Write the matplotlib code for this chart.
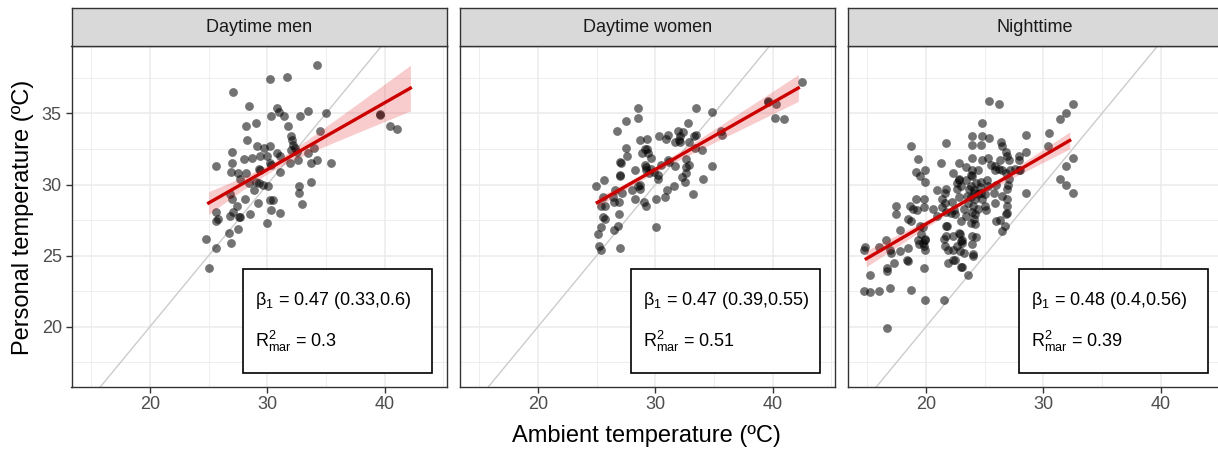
import numpy as np
import matplotlib
matplotlib.use("Agg")
import matplotlib.pyplot as plt

plt.rcParams['font.family'] = ['Liberation Sans', 'DejaVu Sans']
plt.rcParams['mathtext.fontset'] = 'custom'
plt.rcParams['mathtext.rm'] = 'Liberation Sans'
plt.rcParams['mathtext.it'] = 'Liberation Sans'
plt.rcParams['mathtext.default'] = 'regular'

# (ambient, personal) readings per panel
men = [(34.2, 38.4), (30.2, 37.4), (31.7, 37.6), (27.1, 36.5), (28.4, 35.5), (30.8, 35.4),
       (31.0, 35.1), (30.3, 34.8), (31.4, 34.8), (32.8, 34.8), (33.5, 35.2), (35.0, 35.0),
       (39.6, 34.9), (39.6, 34.95), (40.5, 34.1), (41.1, 33.9), (28.2, 34.1), (29.0, 34.3),
       (31.8, 34.1), (34.5, 33.8), (32.0, 33.4), (28.3, 33.1), (29.1, 32.7), (29.7, 32.6),
       (30.2, 32.7), (32.1, 33.1), (32.2, 32.8), (32.4, 32.6), (27.0, 32.3), (28.7, 31.9),
       (28.0, 31.8), (29.4, 32.0), (30.0, 32.0), (30.8, 32.2), (31.1, 32.0), (32.0, 32.4),
       (32.5, 32.3), (33.5, 32.2), (34.0, 32.6), (27.0, 31.5), (25.6, 31.3), (30.2, 31.5),
       (30.3, 31.4), (31.9, 31.5), (32.6, 31.7), (33.7, 31.5), (34.2, 31.7), (35.4, 31.5),
       (26.9, 30.9), (27.5, 30.8), (28.2, 30.8), (29.3, 31.1), (29.4, 31.0), (31.1, 30.9),
       (27.7, 30.4), (28.4, 30.1), (29.0, 30.2), (29.3, 30.1), (29.6, 30.0), (30.1, 29.9),
       (28.9, 29.6), (26.8, 29.3), (27.0, 29.0), (32.7, 29.9), (32.7, 29.4), (33.7, 30.2),
       (27.4, 28.5), (28.1, 29.0), (29.2, 28.7), (30.2, 28.9), (30.5, 28.9), (33.0, 28.6),
       (25.6, 28.1), (25.8, 27.6), (27.1, 28.1), (26.8, 27.8), (27.6, 27.7), (27.7, 27.7),
       (28.5, 27.9), (30.3, 28.2), (31.1, 28.0), (30.0, 27.3), (25.6, 27.4), (27.5, 26.9),
       (26.7, 26.6), (24.8, 26.2), (25.6, 25.5), (26.9, 25.9), (25.0, 24.1)]

women = [(42.5, 37.2), (39.6, 35.9), (39.6, 35.8), (40.3, 35.7), (40.2, 34.7), (41.0, 34.6),
         (35.6, 33.8), (35.7, 33.5), (34.8, 35.1), (33.5, 35.4), (32.8, 34.3), (28.5, 35.4),
         (28.5, 34.7), (27.5, 34.5), (26.7, 33.8), (30.3, 33.4), (31.1, 33.5), (28.7, 33.1),
         (29.3, 33.2), (30.9, 33.2), (31.9, 33.8), (32.1, 33.4), (32.4, 33.7), (33.3, 33.4),
         (33.5, 33.5), (31.7, 33.0), (32.0, 33.1), (32.1, 33.0), (32.9, 33.0), (33.4, 32.6),
         (34.0, 32.4), (27.5, 32.6), (27.6, 32.0), (27.0, 31.6), (27.1, 31.5), (29.1, 32.5),
         (29.3, 32.5), (28.9, 32.2), (29.4, 32.2), (29.6, 31.9), (31.1, 31.7), (31.2, 31.6),
         (30.5, 31.4), (32.6, 31.8), (32.9, 31.4), (32.6, 31.2), (34.8, 31.3), (28.3, 31.0),
         (29.1, 31.4), (29.2, 31.2), (29.2, 31.0), (29.5, 30.8), (29.6, 31.1), (29.9, 30.9),
         (30.2, 30.7), (31.7, 31.3), (32.6, 30.8), (27.0, 30.7), (27.0, 30.6), (25.6, 30.3),
         (30.2, 30.4), (32.3, 30.5), (32.5, 30.2), (34.1, 30.4), (24.9, 29.9), (28.5, 29.9),
         (28.7, 29.7), (28.0, 29.6), (28.7, 29.95), (31.0, 29.6), (31.6, 29.9), (33.2, 29.3),
         (25.5, 29.1), (26.6, 29.6), (26.4, 29.1), (27.2, 29.4), (26.5, 28.8), (26.9, 28.8),
         (30.1, 29.0), (30.8, 29.1), (28.3, 29.0), (29.0, 28.8), (29.2, 28.5), (25.4, 28.5),
         (25.7, 28.5), (25.5, 27.7), (25.7, 27.6), (26.9, 27.9), (25.4, 27.0), (26.8, 27.1),
         (26.5, 26.8), (25.1, 26.5), (30.1, 27.0), (25.2, 25.7), (25.4, 25.4), (27.0, 25.5)]

night = [(25.4, 35.9), (26.2, 35.7), (32.5, 35.7), (31.9, 35.0), (31.4, 34.6), (24.8, 34.3),
         (23.9, 33.4), (24.8, 33.4), (25.4, 33.3), (21.7, 32.9), (18.7, 32.7), (23.9, 32.8),
         (24.7, 32.8), (26.4, 33.0), (26.5, 32.7), (28.5, 33.5), (30.5, 33.6), (30.4, 32.7),
         (28.5, 32.3), (27.9, 32.0), (19.3, 31.8), (21.3, 31.5), (23.9, 31.9), (25.3, 31.9),
         (26.8, 32.3), (26.9, 32.0), (26.3, 31.7), (24.8, 31.7), (23.4, 31.2), (22.8, 31.5),
         (32.5, 31.9), (31.9, 31.3), (27.1, 31.7), (27.9, 31.0), (19.1, 30.9), (19.9, 31.0),
         (19.5, 30.6), (19.9, 30.2), (22.3, 30.8), (22.8, 30.4), (23.9, 31.0), (23.9, 30.6),
         (24.4, 31.0), (25.9, 31.0), (26.5, 31.0), (26.8, 30.8), (27.1, 30.4), (24.7, 30.2),
         (25.2, 30.3), (23.4, 30.3), (22.6, 30.1), (31.4, 30.4), (31.9, 30.0), (32.5, 29.4),
         (28.5, 29.4), (20.9, 29.6), (21.7, 29.7), (21.6, 29.4), (22.6, 29.7), (23.0, 29.9),
         (23.7, 29.7), (24.1, 29.4), (23.8, 29.1), (23.5, 29.2), (24.2, 29.0), (24.8, 29.0),
         (25.0, 29.3), (25.8, 29.4), (25.9, 28.7), (26.9, 29.0), (26.0, 30.0), (25.3, 29.9),
         (24.6, 29.8), (24.3, 30.1), (19.1, 29.0), (19.8, 29.0), (18.6, 28.5), (19.2, 28.2),
         (19.8, 28.4), (17.4, 28.5), (17.4, 27.9), (21.4, 29.0), (21.6, 28.7), (22.2, 28.8),
         (22.8, 29.1), (20.6, 28.3), (21.4, 28.4), (21.7, 28.1), (22.4, 28.2), (22.5, 27.9),
         (23.2, 28.3), (23.9, 28.1), (23.4, 27.8), (24.2, 27.9), (24.1, 27.6), (25.1, 28.2),
         (26.9, 28.5), (26.9, 28.0), (26.0, 27.4), (26.3, 27.5), (26.7, 27.1), (26.5, 26.7),
         (23.0, 27.4), (21.7, 27.1), (21.7, 26.4), (22.3, 26.4), (22.9, 26.5), (23.1, 26.1),
         (23.1, 25.9), (22.6, 25.7), (22.3, 25.4), (23.9, 26.4), (24.3, 26.3), (23.8, 27.3),
         (18.5, 27.6), (18.7, 27.4), (19.5, 27.1), (19.6, 26.5), (17.8, 26.8), (20.9, 27.8),
         (19.3, 26.1), (19.4, 25.8), (19.7, 25.9), (19.9, 26.1), (19.9, 25.4), (21.5, 26.2),
         (21.6, 25.7), (18.5, 25.5), (17.8, 25.3), (16.0, 25.6), (16.6, 26.1), (16.9, 25.4),
         (17.0, 25.2), (14.8, 25.6), (14.7, 25.4), (18.4, 24.7), (18.5, 24.6), (17.3, 24.5),
         (16.7, 24.1), (16.7, 23.9), (15.2, 23.6), (19.8, 24.1), (21.9, 24.5), (22.5, 24.7),
         (23.1, 24.2), (24.0, 25.0), (23.2, 25.2), (23.6, 23.6), (14.7, 22.5), (15.2, 22.4),
         (16.0, 22.5), (16.9, 22.7), (18.7, 22.6), (19.9, 21.9), (21.5, 21.9), (16.7, 19.9),
         (23.8, 29.9), (24.1, 29.6), (24.4, 29.3), (24.7, 29.4), (23.6, 28.7), (24.0, 28.5),
         (24.4, 28.3), (22.8, 30.3), (23.8, 30.7), (22.1, 28.0), (21.8, 27.1), (18.9, 28.3),
         (19.7, 27.0), (19.8, 25.7), (19.9, 26.2), (22.8, 26.6), (23.0, 26.0), (21.9, 25.4),
         (22.9, 25.3), (22.3, 24.7), (23.0, 24.2), (25.9, 31.3), (26.2, 31.1), (27.2, 31.0),
         (27.6, 31.1), (28.0, 31.0), (25.5, 31.4), (27.0, 30.0), (26.9, 29.7), (26.5, 29.2),
         (26.8, 27.9), (25.0, 28.5), (24.2, 27.2), (23.9, 25.8), (24.0, 25.1), (27.9, 31.7)]

panel_titles = ["Daytime men", "Daytime women", "Nighttime"]
panel_data = [men, women, night]

# fitted line (intercept, slope, x range) and confidence band (centre, half width at centre, growth)
fit_intercept = [16.95, 16.96, 17.62]
fit_slope = [0.47, 0.47, 0.48]
fit_from = [25.0, 25.05, 14.9]
fit_to = [42.2, 42.2, 32.25]
band_centre = [30.5, 29.0, 23.3]
band_h0 = [0.30, 0.20, 0.15]
band_k = [0.135, 0.07, 0.065]

beta_labels = ["0.47 (0.33,0.6)", "0.47 (0.39,0.55)", "0.48 (0.4,0.56)"]
r2_labels = ["0.3", "0.51", "0.39"]

xmin, xmax = 13.3, 45.3
ymin, ymax = 15.77, 39.77

fig = plt.figure(figsize=(12.18, 4.49), dpi=100)

panel_left = [71.5, 459.5, 847.5]
panel_w = 375.2
bottom = 1 - 386.7 / 449
top = 1 - 45.7 / 449
strip_top = 1 - 8.3 / 449

grey20 = '#333333'
for i in range(3):
    l = panel_left[i] / 1218
    w = panel_w / 1218
    ax = fig.add_axes([l, bottom, w, top - bottom])
    sx = fig.add_axes([l, top, w, strip_top - top])

    pts = np.array(panel_data[i])
    amb, pers = pts[:, 0], pts[:, 1]

    ax.set_xlim(xmin, xmax)
    ax.set_ylim(ymin, ymax)
    ax.set_xticks([20, 30, 40])
    ax.set_xticks([15, 25, 35, 45], minor=True)
    ax.set_yticks([20, 25, 30, 35])
    ax.set_yticks([17.5, 22.5, 27.5, 32.5, 37.5], minor=True)
    ax.grid(True, which='major', color='#EBEBEB', linewidth=1.1)
    ax.grid(True, which='minor', color='#EBEBEB', linewidth=0.6)
    ax.set_axisbelow(True)
    ax.tick_params(which='minor', length=0)
    ax.tick_params(which='major', length=4, width=1, color=grey20,
                   labelsize=13, labelcolor='#4D4D4D', pad=3)
    if i > 0:
        ax.set_yticklabels([])
        ax.tick_params(axis='y', which='major', length=0)
    for s in ax.spines.values():
        s.set_color(grey20)
        s.set_linewidth(1.0)

    # identity line
    ax.plot([xmin, xmax], [xmin, xmax], color='#CCCCCC', linewidth=1.0, zorder=2)

    ax.scatter(amb, pers, s=40, color='black', alpha=0.55, linewidths=0, zorder=3)

    xs = np.linspace(fit_from[i], fit_to[i], 100)
    yfit = fit_intercept[i] + fit_slope[i] * xs
    hw = np.sqrt(band_h0[i] ** 2 + (band_k[i] * (xs - band_centre[i])) ** 2)
    ax.fill_between(xs, yfit - hw, yfit + hw, color='#E31A1C', alpha=0.22,
                    linewidth=0, zorder=4)
    ax.plot(xs, yfit, color='#CC0000', linewidth=2.4, zorder=5)

    # annotation box
    ax.add_patch(plt.Rectangle((0.458, 0.039), 0.502, 0.305, transform=ax.transAxes,
                               facecolor='white', edgecolor='black', linewidth=1.2,
                               zorder=6))
    ax.text(0.489, 0.252, r'$\beta_1$ = ' + beta_labels[i], transform=ax.transAxes,
            fontsize=13, va='center', ha='left', zorder=7)
    ax.text(0.489, 0.132, r'R$^2_{mar}$ = ' + r2_labels[i],
            transform=ax.transAxes, fontsize=13, va='center', ha='left', zorder=7)

    sx.set_facecolor('#D9D9D9')
    sx.set_xticks([])
    sx.set_yticks([])
    for s in sx.spines.values():
        s.set_color(grey20)
        s.set_linewidth(1.0)
    sx.text(0.5, 0.5, panel_titles[i], transform=sx.transAxes, ha='center',
            va='center', fontsize=13, color='#1A1A1A')

fig.text(0.531, 0.03, 'Ambient temperature (ºC)', ha='center', va='center', fontsize=17)
fig.text(0.019, 0.515, 'Personal temperature (ºC)', ha='center', va='center',
         rotation=90, fontsize=17)

plt.savefig('out.png', dpi=100)
